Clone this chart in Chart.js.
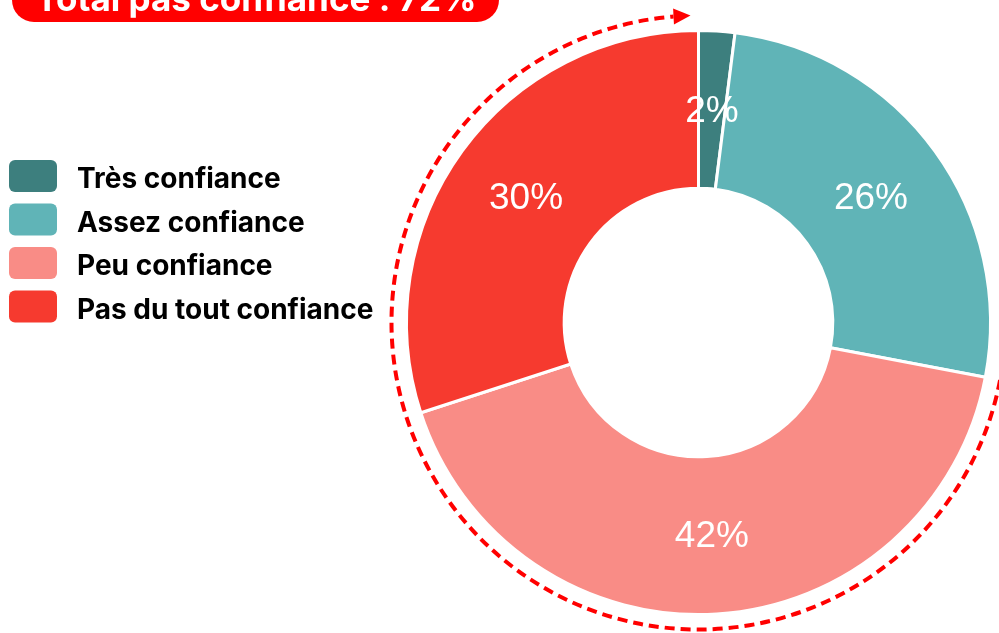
<!DOCTYPE html>
<html>
<head>
<meta charset="utf-8">
<script src="https://cdn.jsdelivr.net/npm/chart.js@4"></script>
<style>
  html, body { margin: 0; padding: 0; background: #fff; }
  #wrap { width: 999px; height: 633px; }
</style>
</head>
<body>
<div id="wrap"><canvas id="donut"></canvas></div>
<script>
const labels = ['Très confiance', 'Assez confiance', 'Peu confiance', 'Pas du tout confiance'];
const values = [2, 26, 42, 30];
const colors = ['#3d7f7e', '#60b4b7', '#f98c86', '#f63a2f'];
const totalLabel = 'Total pas confiance : 72%';
const firstNoTrust = 2; // index where "pas confiance" slices start

const textFont = 'Inter, "DejaVu Sans", sans-serif';

// percentage labels in the middle of each ring slice
const sliceLabels = {
  id: 'sliceLabels',
  afterDatasetsDraw(chart) {
    const ctx = chart.ctx;
    const arcs = chart.getDatasetMeta(0).data;
    ctx.save();
    ctx.fillStyle = '#fff';
    ctx.font = '37px "Liberation Sans", Arial, sans-serif';
    ctx.textAlign = 'center';
    ctx.textBaseline = 'middle';
    arcs.forEach((arc, i) => {
      const p = arc.tooltipPosition();
      ctx.fillText(values[i] + '%', p.x, p.y + 2);
    });
    ctx.restore();
  }
};

// dashed arrow arc around the "pas confiance" part + title pill + legend
const extras = {
  id: 'extras',
  afterDraw(chart) {
    const ctx = chart.ctx;
    const arcs = chart.getDatasetMeta(0).data;
    const first = arcs[firstNoTrust];
    const cx = first.x, cy = first.y;
    const r = first.outerRadius + 15;
    const start = first.startAngle;
    const tipAngle = -Math.PI / 2 - 8 / r;
    const baseAngle = -Math.PI / 2 - 25 / r;

    ctx.save();
    ctx.strokeStyle = '#ff0000';
    ctx.lineWidth = 4;
    ctx.setLineDash([10, 6]);
    ctx.beginPath();
    ctx.arc(cx, cy, r, start, baseAngle + 2 * Math.PI);
    ctx.stroke();
    ctx.setLineDash([]);
    // arrow head
    const bx = cx + r * Math.cos(baseAngle), by = cy + r * Math.sin(baseAngle);
    const tx = cx + r * Math.cos(tipAngle), ty = cy + r * Math.sin(tipAngle);
    const nx = -(ty - by), ny = (tx - bx);
    const len = Math.hypot(nx, ny);
    ctx.fillStyle = '#ff0000';
    ctx.beginPath();
    ctx.moveTo(tx, ty);
    ctx.lineTo(bx + nx / len * 8, by + ny / len * 8);
    ctx.lineTo(bx - nx / len * 8, by - ny / len * 8);
    ctx.closePath();
    ctx.fill();

    // title pill (cut by the top edge)
    ctx.fillStyle = '#ff0000';
    ctx.beginPath();
    ctx.roundRect(12, -30, 487, 52, 22);
    ctx.fill();
    ctx.fillStyle = '#fff';
    ctx.font = 'bold 35px ' + textFont;
    ctx.textAlign = 'center';
    ctx.textBaseline = 'alphabetic';
    ctx.fillText(totalLabel, 256, 11);

    // legend
    ctx.textAlign = 'left';
    ctx.font = 'bold 28px ' + textFont;
    chart.data.labels.forEach((lab, i) => {
      const top = 160 + i * 43.5;
      ctx.fillStyle = chart.data.datasets[0].backgroundColor[i];
      ctx.beginPath();
      ctx.roundRect(9, top, 48, 32, 6);
      ctx.fill();
      ctx.fillStyle = '#000';
      ctx.fillText(lab, 77, top + 28);
    });
    ctx.restore();
  }
};

new Chart(document.getElementById('donut'), {
  type: 'doughnut',
  data: {
    labels: labels,
    datasets: [{
      data: values,
      backgroundColor: colors,
      borderColor: '#fff',
      borderWidth: 3
    }]
  },
  options: {
    responsive: true,
    maintainAspectRatio: false,
    animation: false,
    cutout: '46%',
    layout: { padding: { left: 398, right: 0, top: 29, bottom: 17 } },
    plugins: {
      legend: { display: false },
      tooltip: { enabled: false }
    }
  },
  plugins: [sliceLabels, extras]
});
</script>
</body>
</html>
